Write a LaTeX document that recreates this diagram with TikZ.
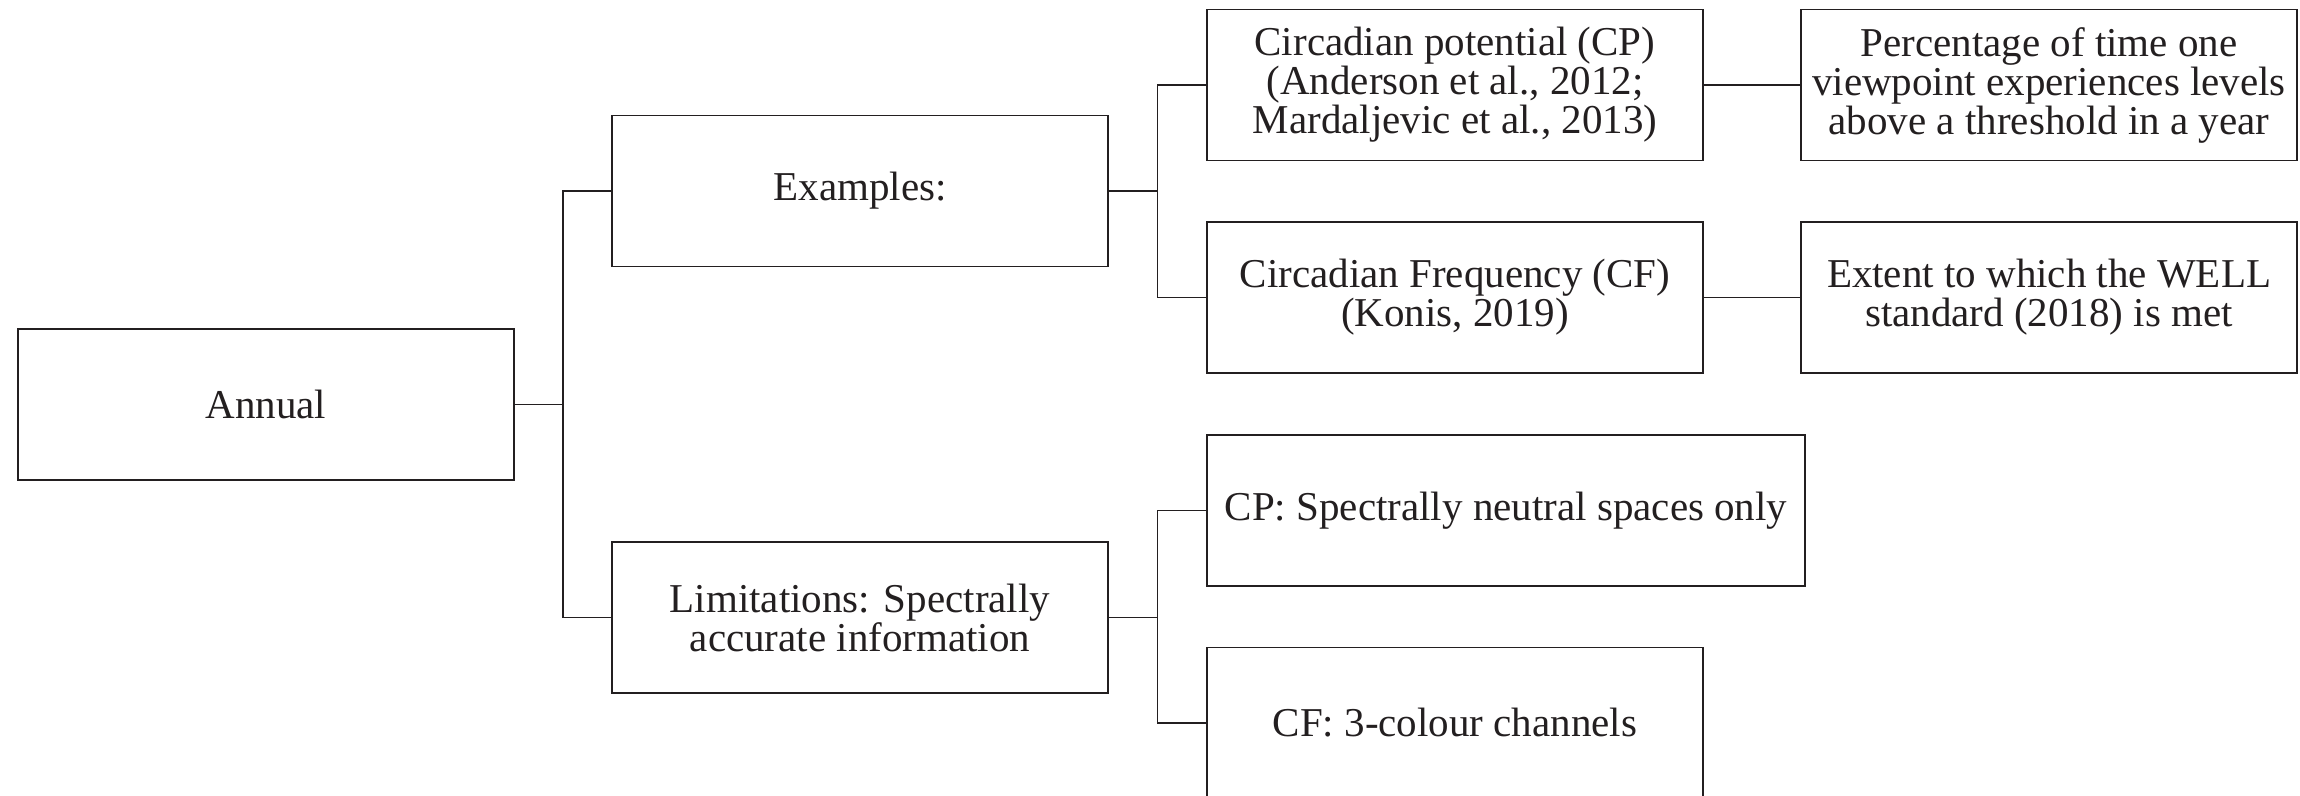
\documentclass[tikz,border=0pt]{standalone}
\usepackage{fontspec}
\setmainfont{Liberation Serif}
\usetikzlibrary{calc}
\definecolor{ink}{HTML}{231F20}
\begin{document}
\begin{tikzpicture}[x=0.5pt,y=-0.5pt,
  box/.style={draw=ink,line width=0.9pt,rectangle,minimum width=248pt,minimum height=75.5pt,
    inner sep=0pt,align=center,text=ink,font=\fontsize{20.5}{19.5}\selectfont},
  wide/.style={box,minimum width=299pt},
  link/.style={draw=ink,line width=0.9pt}]
\useasboundingbox (0,0) rectangle (2300,796);
\node[box] (ann) at (266,404.5) {Annual};
\node[box] (ex) at (860,191) {Examples:};
\node[box] (lim) at (860,617.5) {Limitations: Spectrally\\accurate information};
\node[box] (cp) at (1455,85) {Circadian potential (CP)\\(Anderson et al., 2012;\\Mardaljevic et al., 2013)};
\node[box] (cf) at (1455,297.5) {Circadian Frequency (CF)\\(Konis, 2019)};
\node[box] (pct) at (2049,85) {Percentage of time one\\viewpoint experiences levels\\above a threshold in a year};
\node[box] (ext) at (2049,297.5) {Extent to which the WELL\\standard (2018) is met};
\node[wide] (cps) at (1506,510.5) {CP: Spectrally neutral spaces only};
\node[box] (cfc) at (1455,723) {CF: 3-colour channels};
\coordinate (j1) at ($(ann.east)!0.5!(ex.west |- ann.east)$);
\coordinate (j2) at ($(ex.east)!0.5!(cp.west |- ex.east)$);
\coordinate (j3) at ($(lim.east)!0.5!(cps.west |- lim.east)$);
\draw[link] (ann.east) -- (j1);
\draw[link] (ex.west) -| (j1) |- (lim.west);
\draw[link] (ex.east) -- (j2);
\draw[link] (cp.west) -| (j2) |- (cf.west);
\draw[link] (lim.east) -- (j3);
\draw[link] (cps.west) -| (j3) |- (cfc.west);
\draw[link] (cp.east) -- (pct.west);
\draw[link] (cf.east) -- (ext.west);
\end{tikzpicture}
\end{document}
